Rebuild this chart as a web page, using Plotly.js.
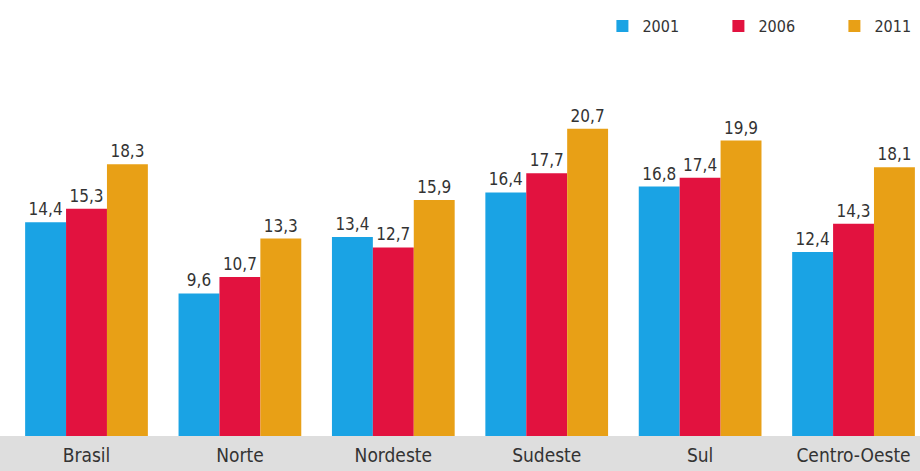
<!DOCTYPE html>
<html>
<head>
<meta charset="utf-8">
<script src="https://cdn.plot.ly/plotly-3.0.1.min.js"></script>
<style>html,body{margin:0;padding:0;background:#fff;}#chart{width:920px;height:471px;}</style>
</head>
<body>
<div id="chart"></div>
<script>
const categories = ["Brasil", "Norte", "Nordeste", "Sudeste", "Sul", "Centro-Oeste"];
const seriesNames = ["2001", "2006", "2011"];
const values2001 = [14.4, 9.6, 13.4, 16.4, 16.8, 12.4];
const values2006 = [15.3, 10.7, 12.7, 17.7, 17.4, 14.3];
const values2011 = [18.3, 13.3, 15.9, 20.7, 19.9, 18.1];
const colors = ["#1aa3e4", "#e2123f", "#e8a016"];

const FONT = "'DejaVu Sans Condensed', 'Liberation Sans Narrow', 'Arial Narrow', sans-serif";
const seriesValues = [values2001, values2006, values2011];

const traces = seriesValues.map((vals, i) => ({
  type: "bar",
  name: seriesNames[i],
  x: categories,
  y: vals,
  marker: {color: colors[i]},
  texttemplate: "%{y:.1f}",
  textposition: "outside",
  constraintext: "none",
  cliponaxis: false,
  textfont: {family: FONT, size: 17, color: "#333"},
  hoverinfo: "none"
}));

const layout = {
  width: 920, height: 471,
  margin: {l: 10, r: 0, t: 40, b: 35, autoexpand: false},
  paper_bgcolor: "#fff", plot_bgcolor: "#fff",
  separators: ",.",
  barmode: "group",
  bargap: 0.2,
  bargroupgap: 0,
  font: {family: FONT, color: "#333"},
  xaxis: {
    type: "category",
    range: [-0.4987, 5.4333],
    showgrid: false, zeroline: false, showline: false,
    ticks: "",
    tickfont: {family: FONT, size: 19, color: "#333"},
    ticklabelstandoff: 6,
    fixedrange: true
  },
  yaxis: {
    range: [0, 26.67],
    visible: false,
    fixedrange: true
  },
  showlegend: true,
  legend: {
    orientation: "h",
    x: 0.651, xanchor: "left",
    y: 1.035, yanchor: "middle",
    font: {family: FONT, size: 16, color: "#333"},
    entrywidth: 71, entrywidthmode: "pixels",
    itemclick: false, itemdoubleclick: false,
    bgcolor: "rgba(0,0,0,0)"
  },
  shapes: [{
    type: "rect", xref: "paper", yref: "paper",
    x0: -0.011, x1: 1, y0: -35/396, y1: 0,
    fillcolor: "#dedede", line: {width: 0}, layer: "below"
  }]
};

Plotly.newPlot("chart", traces, layout, {displayModeBar: false, staticPlot: true});
</script>
</body>
</html>
